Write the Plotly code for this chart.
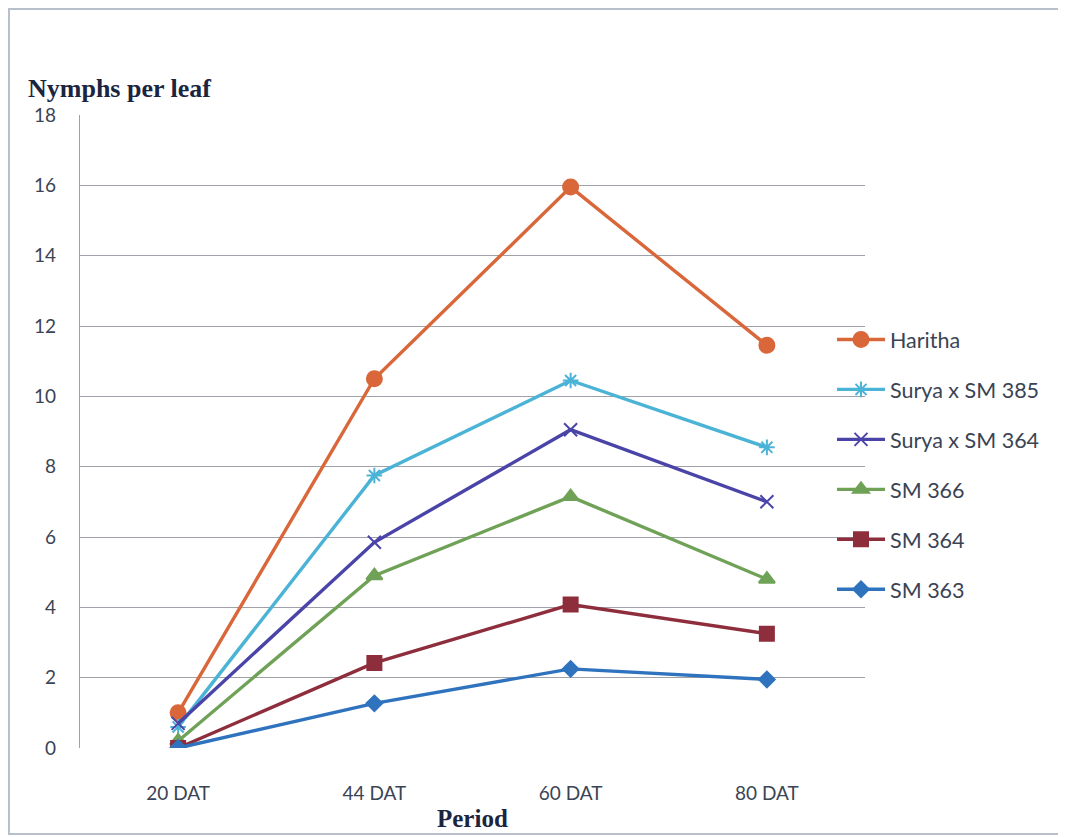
import plotly.graph_objects as go

periods = ["20 DAT", "44 DAT", "60 DAT", "80 DAT"]
series_names = ["Haritha", "Surya x SM 385", "Surya x SM 364", "SM 366", "SM 364", "SM 363"]
haritha = [1.0, 10.5, 15.95, 11.45]
surya_sm385 = [0.6, 7.75, 10.45, 8.55]
surya_sm364 = [0.7, 5.85, 9.05, 7.0]
sm366 = [0.2, 4.9, 7.15, 4.8]
sm364 = [0.0, 2.42, 4.08, 3.25]
sm363 = [0.0, 1.27, 2.25, 1.95]
y_ticks = [0, 2, 4, 6, 8, 10, 12, 14, 16, 18]

values = [haritha, surya_sm385, surya_sm364, sm366, sm364, sm363]
colors = ["#D9673A", "#4BB3D6", "#4A44A8", "#6FA257", "#8E2E3C", "#2F73BE"]
symbols = ["circle", "asterisk-open", "x-thin-open", "triangle-up", "square", "diamond"]
sizes = [15, 13, 13, 14, 14, 12]

fig = go.Figure()
for i, (name, vals) in enumerate(zip(series_names, values)):
    fig.add_trace(go.Scatter(
        x=periods, y=vals, name=name, mode="lines+markers",
        legendgroup=f"g{i}",
        line=dict(color=colors[i], width=3.4),
        marker=dict(symbol=symbols[i], size=sizes[i], color=colors[i],
                    line=dict(color=colors[i], width=2)),
    ))

# page has an 8px body margin; reference coordinates are shifted by OFF
OFF = 8
W, H = 1066 - OFF, 837 - OFF
PL, PR, PT, PB = 80 - OFF, 865 - OFF, 115 - OFF, 748 - OFF
pw, ph = PR - PL, PB - PT


def px(xr):
    return (xr - OFF - PL) / pw


def py(yr):
    return (PB - (yr - OFF)) / ph


fig.update_layout(
    width=W, height=H,
    margin=dict(l=PL, r=W - PR, t=PT, b=H - PB),
    paper_bgcolor="white", plot_bgcolor="white",
    showlegend=True,
    legend=dict(x=px(832), y=py(319), xanchor="left", yanchor="top",
                font=dict(family="Lato", size=21.5, color="#3A4454"),
                tracegroupgap=19, itemwidth=48, bgcolor="rgba(0,0,0,0)"),
    xaxis=dict(type="category", range=[-0.5, 3.5], showgrid=False, showline=False,
               ticks="", ticklabelstandoff=32,
               tickfont=dict(family="Lato", size=19, color="#3A4454")),
    yaxis=dict(range=[0, 18], tickvals=y_ticks, showgrid=True, gridcolor="#A0A0A8",
               gridwidth=1.3, zeroline=False, showline=True, linecolor="#A0A0A8",
               linewidth=1.3, ticks="", ticklabelstandoff=19,
               tickfont=dict(family="Lato", size=19, color="#3A4454")),
    annotations=[
        dict(text="<b>Nymphs per leaf</b>", xref="paper", yref="paper",
             x=px(26), y=py(89), xanchor="left", yanchor="middle",
             showarrow=False, font=dict(family="Liberation Serif", size=26, color="#1B2540")),
        dict(text="<b>Period</b>", xref="paper", yref="paper",
             x=px(472), y=py(818), xanchor="center", yanchor="middle",
             showarrow=False, font=dict(family="Liberation Serif", size=25, color="#1B2540")),
    ],
    shapes=[
        dict(type="rect", xref="paper", yref="paper",
             x0=px(9), x1=px(1063), y0=py(834), y1=py(9),
             line=dict(color="#B8C0CC", width=2)),
    ],
)

fig.write_html("out.html")
